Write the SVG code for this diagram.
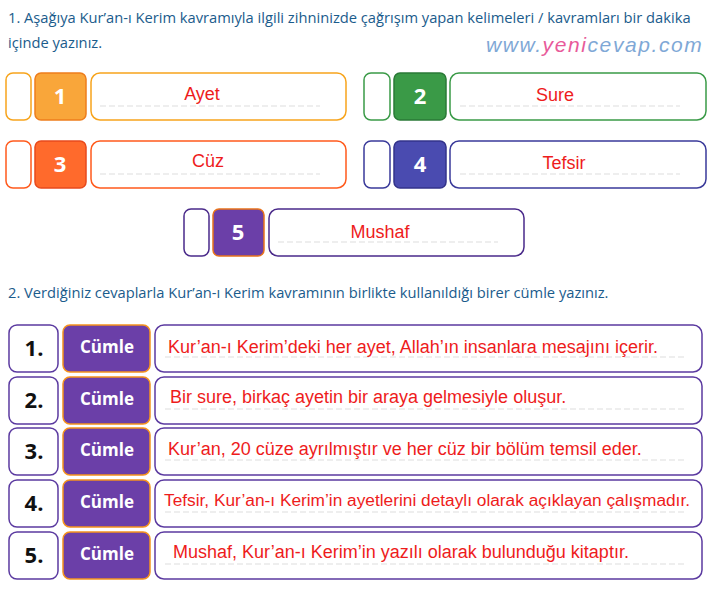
<svg xmlns="http://www.w3.org/2000/svg" width="710" height="589" viewBox="0 0 710 589">
<style>
.q{font-family:"Open Sans","Liberation Sans",sans-serif;font-size:14.7px;fill:#1b5c8c}
.a{font-family:"Liberation Sans",Arial,sans-serif;font-size:18px;fill:#ee1c1c}
.n{font-family:"Open Sans","Liberation Sans",sans-serif;font-size:22px;font-weight:bold;fill:#fff;text-anchor:middle}
.d{stroke:#ddd;stroke-width:1;stroke-dasharray:6 3}
.c{font-family:"Open Sans","Liberation Sans",sans-serif;font-size:17px;font-weight:bold;fill:#fff;text-anchor:middle}
.k{font-family:"Open Sans","Liberation Sans",sans-serif;font-size:22px;font-weight:bold;fill:#111;text-anchor:middle}
.w{fill:#fff;stroke:#5b3aa0;stroke-width:1.5}
.p{fill:#6b3fa8;stroke:#f5931e;stroke-width:1.5}
</style>
<rect width="710" height="589" fill="#fff"/>
<text class="q" x="8" y="23">1. Aşağıya Kur’an-ı Kerim kavramıyla ilgili zihninizde çağrışım yapan kelimeleri / kavramları bir dakika</text>
<text class="q" x="8" y="48">içinde yazınız.</text>
<text x="486" y="52" font-family="Liberation Sans,sans-serif" font-size="21" font-style="italic" fill="#7fa8d6" letter-spacing="1.6">www.<tspan fill="#e85a9a">yeni</tspan>cevap.com</text>
<g id="w1">
<rect x="6" y="73" width="25" height="47" rx="7" fill="#fff" stroke="#f7a41c" stroke-width="1.5"/>
<rect x="35" y="73" width="51" height="47" rx="6" fill="#f9a63a" stroke="#ee7d1c" stroke-width="1.5"/>
<text class="n" x="60" y="104">1</text>
<rect x="91" y="73" width="255" height="47" rx="9" fill="#fff" stroke="#f7a41c" stroke-width="1.5"/>
<line class="d" x1="100" y1="106" x2="320" y2="106"/>
<text class="a" x="202" y="100" text-anchor="middle">Ayet</text>
</g>
<g id="w2">
<rect x="364" y="73" width="26" height="47" rx="7" fill="#fff" stroke="#3a9a47" stroke-width="1.5"/>
<rect x="394" y="73" width="52" height="47" rx="6" fill="#3a9a47" stroke="#2a7a37" stroke-width="1.5"/>
<text class="n" x="420" y="104">2</text>
<rect x="450" y="73" width="256" height="47" rx="9" fill="#fff" stroke="#3a9a47" stroke-width="1.5"/>
<line class="d" x1="460" y1="106" x2="680" y2="106"/>
<text class="a" x="555" y="101" text-anchor="middle">Sure</text>
</g>
<g id="w3">
<rect x="6" y="141" width="25" height="47" rx="7" fill="#fff" stroke="#ff5a1c" stroke-width="1.5"/>
<rect x="35" y="141" width="51" height="47" rx="6" fill="#ff6a2c" stroke="#e84a1c" stroke-width="1.5"/>
<text class="n" x="60" y="172">3</text>
<rect x="91" y="141" width="255" height="47" rx="9" fill="#fff" stroke="#ff5a1c" stroke-width="1.5"/>
<line class="d" x1="100" y1="174" x2="320" y2="174"/>
<text class="a" x="208" y="167" text-anchor="middle">Cüz</text>
</g>
<g id="w4">
<rect x="364" y="141" width="26" height="47" rx="7" fill="#fff" stroke="#3a3a9a" stroke-width="1.5"/>
<rect x="394" y="141" width="52" height="47" rx="6" fill="#4a4bb0" stroke="#33338a" stroke-width="1.5"/>
<text class="n" x="420" y="172">4</text>
<rect x="450" y="141" width="256" height="47" rx="9" fill="#fff" stroke="#3a3a9a" stroke-width="1.5"/>
<line class="d" x1="460" y1="174" x2="680" y2="174"/>
<text class="a" x="564" y="169" text-anchor="middle">Tefsir</text>
</g>
<g id="w5">
<rect x="184" y="209" width="25" height="47" rx="7" fill="#fff" stroke="#4a2a8a" stroke-width="1.5"/>
<rect x="213" y="209" width="51" height="47" rx="6" fill="#6b3fa8" stroke="#e8731c" stroke-width="1.5"/>
<text class="n" x="238" y="240">5</text>
<rect x="269" y="209" width="255" height="47" rx="9" fill="#fff" stroke="#4a2a8a" stroke-width="1.5"/>
<line class="d" x1="278" y1="242" x2="498" y2="242"/>
<text class="a" x="380" y="238" text-anchor="middle">Mushaf</text>
</g>
<text class="q" x="8" y="298">2. Verdiğiniz cevaplarla Kur’an-ı Kerim kavramının birlikte kullanıldığı birer cümle yazınız.</text>
<g id="s1">
<rect class="w" x="9" y="325" width="49" height="47" rx="8"/><text class="k" x="34" y="356">1.</text>
<rect class="p" x="63" y="325" width="87" height="47" rx="7"/><text class="c" x="107" y="353">Cümle</text>
<rect class="w" x="155" y="325" width="547" height="47" rx="9"/><line class="d" x1="165" y1="357" x2="685" y2="357"/>
<text class="a" x="168" y="353">Kur’an-ı Kerim’deki her ayet, Allah’ın insanlara mesajını içerir.</text>
</g>
<g id="s2">
<rect class="w" x="9" y="377" width="49" height="47" rx="8"/><text class="k" x="34" y="408">2.</text>
<rect class="p" x="63" y="377" width="87" height="47" rx="7"/><text class="c" x="107" y="405">Cümle</text>
<rect class="w" x="155" y="377" width="547" height="47" rx="9"/><line class="d" x1="165" y1="409" x2="685" y2="409"/>
<text class="a" x="170" y="403">Bir sure, birkaç ayetin bir araya gelmesiyle oluşur.</text>
</g>
<g id="s3">
<rect class="w" x="9" y="428" width="49" height="47" rx="8"/><text class="k" x="34" y="459">3.</text>
<rect class="p" x="63" y="428" width="87" height="47" rx="7"/><text class="c" x="107" y="456">Cümle</text>
<rect class="w" x="155" y="428" width="547" height="47" rx="9"/><line class="d" x1="165" y1="460" x2="685" y2="460"/>
<text class="a" x="168" y="455">Kur’an, 20 cüze ayrılmıştır ve her cüz bir bölüm temsil eder.</text>
</g>
<g id="s4">
<rect class="w" x="9" y="480" width="49" height="47" rx="8"/><text class="k" x="34" y="511">4.</text>
<rect class="p" x="63" y="480" width="87" height="47" rx="7"/><text class="c" x="107" y="508">Cümle</text>
<rect class="w" x="155" y="480" width="547" height="47" rx="9"/><line class="d" x1="165" y1="512" x2="685" y2="512"/>
<text class="a" x="164" y="506" style="font-size:17.3px">Tefsir, Kur’an-ı Kerim’in ayetlerini detaylı olarak açıklayan çalışmadır.</text>
</g>
<g id="s5">
<rect class="w" x="9" y="532" width="49" height="47" rx="8"/><text class="k" x="34" y="563">5.</text>
<rect class="p" x="63" y="532" width="87" height="47" rx="7"/><text class="c" x="107" y="560">Cümle</text>
<rect class="w" x="155" y="532" width="547" height="47" rx="9"/><line class="d" x1="165" y1="564" x2="685" y2="564"/>
<text class="a" x="173" y="558">Mushaf, Kur’an-ı Kerim’in yazılı olarak bulunduğu kitaptır.</text>
</g>
</svg>
